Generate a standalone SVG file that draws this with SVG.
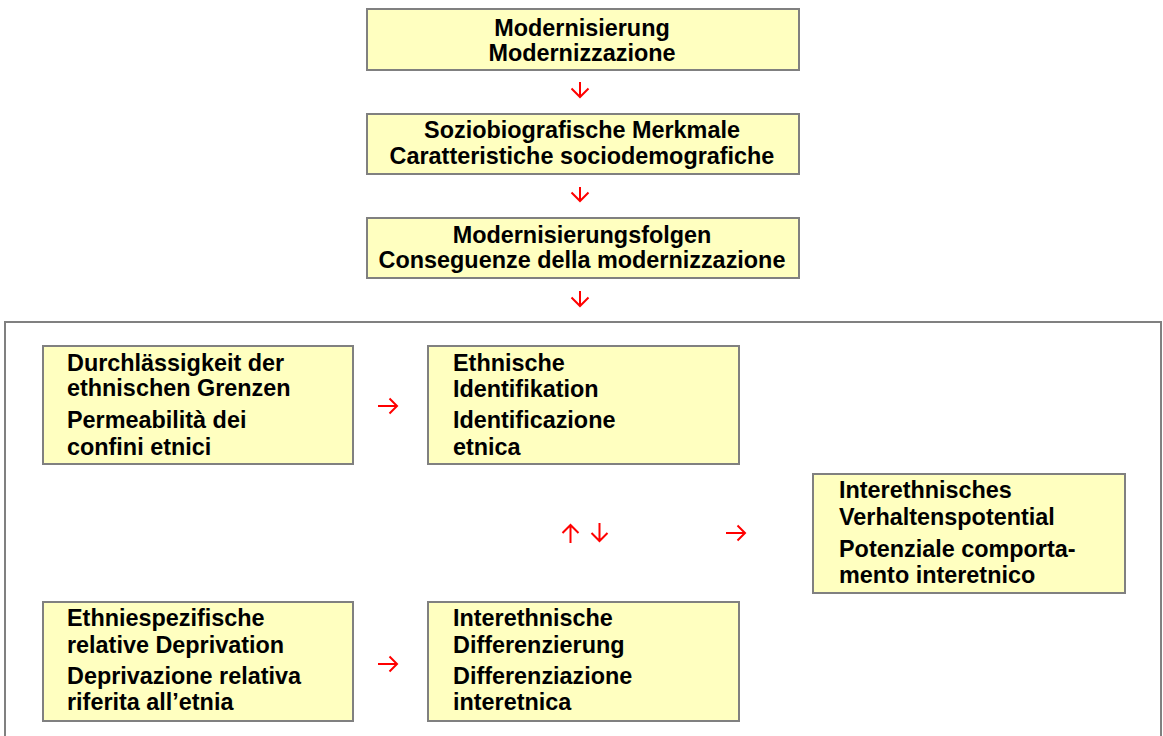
<svg xmlns="http://www.w3.org/2000/svg" width="1163" height="736" viewBox="0 0 1163 736">
<defs>
<style>
.box{fill:#FFFFC0;stroke:#808080;stroke-width:2}
.frame{fill:none;stroke:#808080;stroke-width:2}
.t{font-family:"Liberation Sans",Arial,sans-serif;font-weight:bold;font-size:23.4px;fill:#000}
.c{text-anchor:middle}
.arr{fill:none;stroke:#FF0000;stroke-width:2;stroke-linecap:butt;stroke-linejoin:miter}
</style>
</defs>
<rect width="1163" height="736" fill="#FFFFFF"/>
<rect id="frame" class="frame" x="5" y="322" width="1156" height="430"/>
<g id="n1"><rect class="box" x="367" y="9" width="432" height="61"/>
<text class="t c" x="582" y="36">Modernisierung</text>
<text class="t c" x="582" y="61">Modernizzazione</text></g>
<g id="n2"><rect class="box" x="367" y="114" width="432" height="60"/>
<text class="t c" x="582" y="138">Soziobiografische Merkmale</text>
<text class="t c" x="582" y="164">Caratteristiche sociodemografiche</text></g>
<g id="n3"><rect class="box" x="367" y="218" width="432" height="60"/>
<text class="t c" x="582" y="243">Modernisierungsfolgen</text>
<text class="t c" x="582" y="268">Conseguenze della modernizzazione</text></g>
<g id="nA"><rect class="box" x="43" y="346" width="310" height="118"/>
<text class="t" x="67" y="371">Durchlässigkeit der</text>
<text class="t" x="67" y="396">ethnischen Grenzen</text>
<text class="t" x="67" y="428">Permeabilità dei</text>
<text class="t" x="67" y="455">confini etnici</text></g>
<g id="nB"><rect class="box" x="428" y="346" width="311" height="118"/>
<text class="t" x="453" y="371">Ethnische</text>
<text class="t" x="453" y="397">Identifikation</text>
<text class="t" x="453" y="428">Identificazione</text>
<text class="t" x="453" y="455">etnica</text></g>
<g id="nC"><rect class="box" x="813" y="474" width="312" height="119"/>
<text class="t" x="839" y="498">Interethnisches</text>
<text class="t" x="839" y="525">Verhaltenspotential</text>
<text class="t" x="839" y="557">Potenziale comporta-</text>
<text class="t" x="839" y="583">mento interetnico</text></g>
<g id="nD"><rect class="box" x="43" y="602" width="310" height="119"/>
<text class="t" x="67" y="626">Ethniespezifische</text>
<text class="t" x="67" y="653">relative Deprivation</text>
<text class="t" x="67" y="684">Deprivazione relativa</text>
<text class="t" x="67" y="710">riferita all’etnia</text></g>
<g id="nE"><rect class="box" x="428" y="602" width="311" height="119"/>
<text class="t" x="453" y="626">Interethnische</text>
<text class="t" x="453" y="653">Differenzierung</text>
<text class="t" x="453" y="684">Differenziazione</text>
<text class="t" x="453" y="710">interetnica</text></g>
<g id="connectors">
<path class="arr" d="M580 82V97M571.5 88.5L580 97L588.5 88.5"/>
<path class="arr" d="M580 187V201M571.5 192.5L580 201L588.5 192.5"/>
<path class="arr" d="M580 291V306M571.5 297.5L580 306L588.5 297.5"/>
<path class="arr" d="M378 406H397M389.5 398.5L397 406L389.5 413.5"/>
<path class="arr" d="M378 664H397M389.5 656.5L397 664L389.5 671.5"/>
<path class="arr" d="M726 533H745M737.5 525.5L745 533L737.5 540.5"/>
<path class="arr" d="M570.5 543V525M562.5 533L570.5 525L578.5 533"/>
<path class="arr" d="M599.5 523V541M591.5 533L599.5 541L607.5 533"/>
</g>
</svg>
